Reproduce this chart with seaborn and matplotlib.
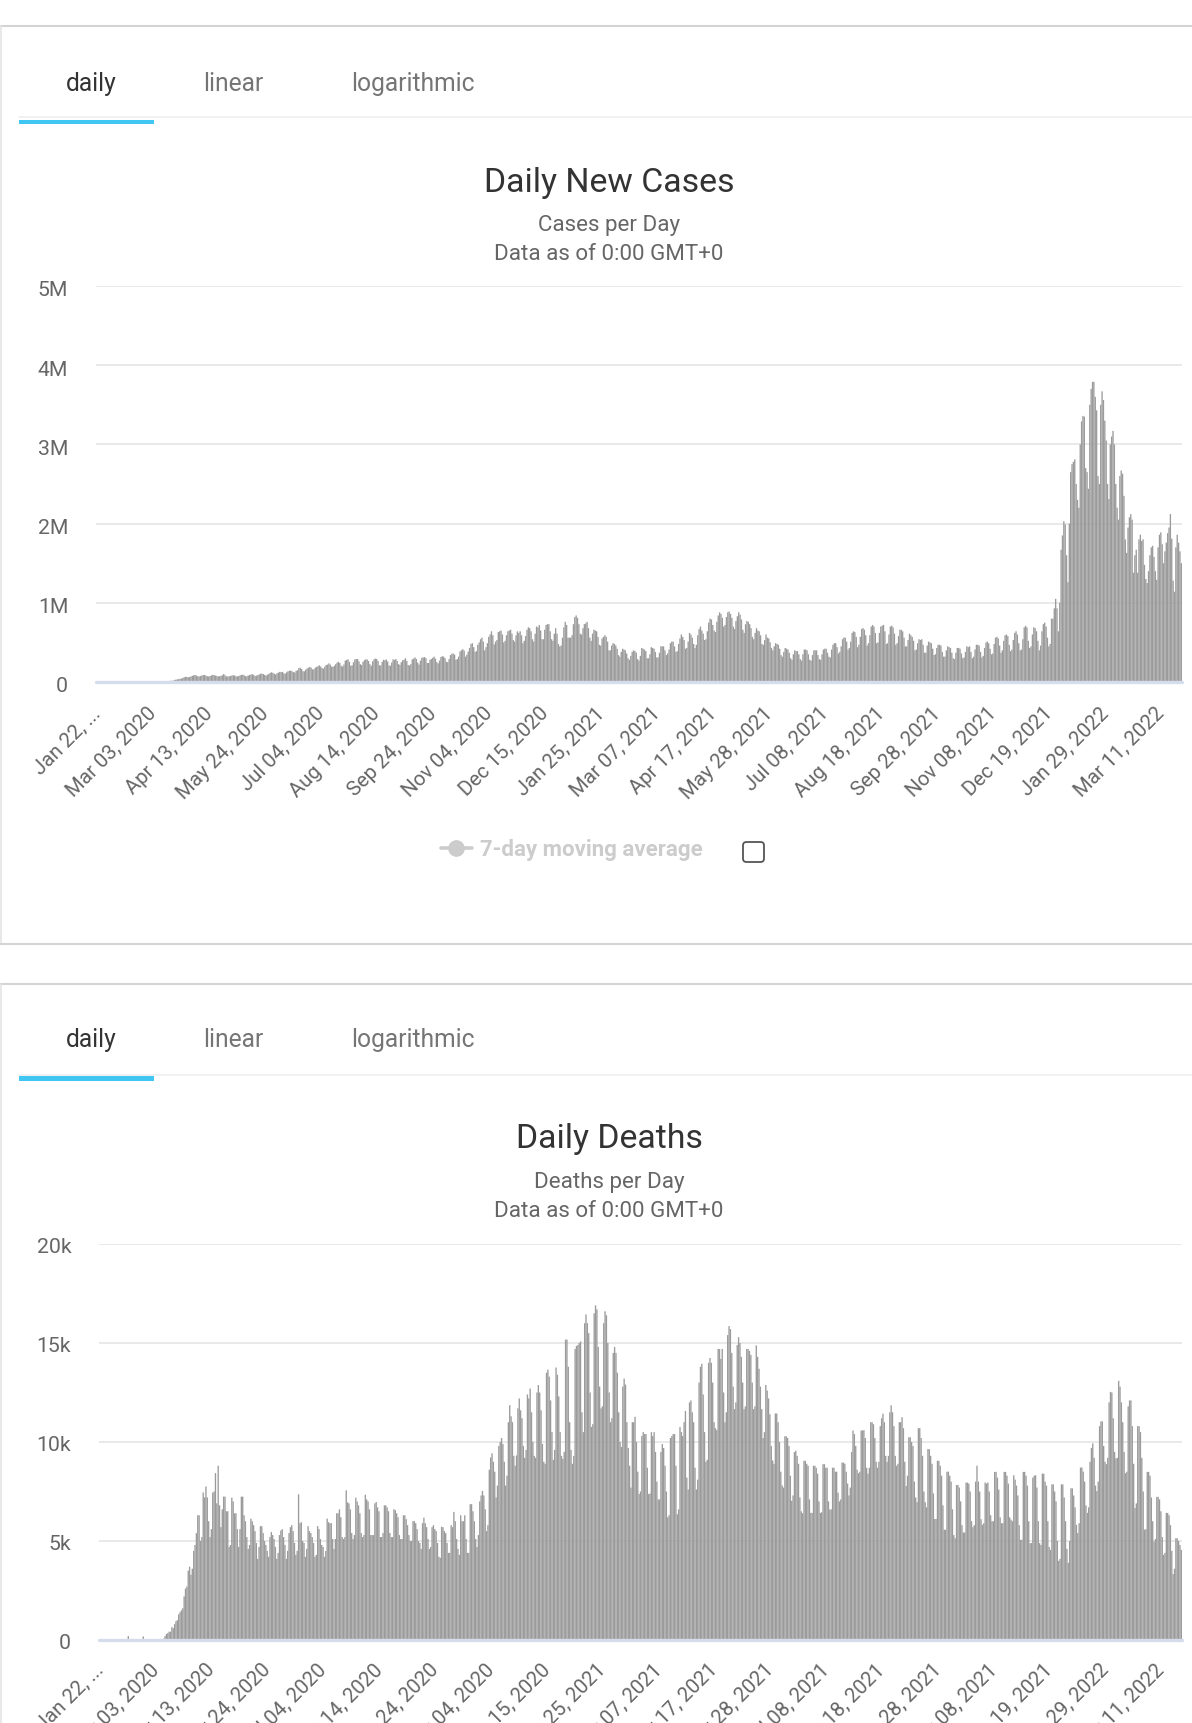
import matplotlib
matplotlib.use("Agg")
import matplotlib.pyplot as plt
import pandas as pd
import seaborn as sns
from matplotlib.patches import FancyBboxPatch, Rectangle
from matplotlib.lines import Line2D
from matplotlib.transforms import ScaledTranslation

tab_labels = ["daily", "linear", "logarithmic"]
tick_labels = ["Jan 22, ...", "Mar 03, 2020", "Apr 13, 2020", "May 24, 2020", "Jul 04, 2020",
               "Aug 14, 2020", "Sep 24, 2020", "Nov 04, 2020", "Dec 15, 2020", "Jan 25, 2021",
               "Mar 07, 2021", "Apr 17, 2021", "May 28, 2021", "Jul 08, 2021", "Aug 18, 2021",
               "Sep 28, 2021", "Nov 08, 2021", "Dec 19, 2021", "Jan 29, 2022", "Mar 11, 2022"]
cases_yticks = [0, 1000000, 2000000, 3000000, 4000000, 5000000]
cases_ylabels = ["0", "1M", "2M", "3M", "4M", "5M"]
deaths_yticks = [0, 5000, 10000, 15000, 20000]
deaths_ylabels = ["0", "5k", "10k", "15k", "20k"]

# daily new cases, thousands, one row per week starting Wed Jan 22, 2020
cases_k = [
    1,0,1,1,1,1,2, 2,2,2,3,3,3,4, 4,4,3,3,3,3,2, 2,8,5,2,2,2,2,
    2,1,1,1,2,1,1, 1,1,2,2,2,2,2, 2,3,3,4,4,4,5, 7,8,11,12,13,15,16,
    16,26,30,33,35,40,43, 50,60,65,64,60,62,70, 78,85,88,82,72,70,75,
    84,86,90,80,72,70,76, 82,90,88,80,75,72,72, 78,85,100,85,70,70,72,
    76,82,85,82,72,72,75, 85,90,92,85,72,75,82, 88,95,98,90,75,80,88,
    95,105,105,100,90,80,92, 102,115,122,115,105,95,110, 118,128,125,128,110,105,122,
    135,140,145,135,125,120,140, 148,175,180,165,135,135,155, 170,180,190,180,160,160,180,
    190,200,210,195,175,170,195, 215,220,235,220,195,190,205, 225,245,255,240,205,195,220,
    270,280,285,255,205,210,250, 285,290,290,260,225,215,255, 275,285,285,265,225,205,260,
    285,295,290,265,210,210,255, 280,275,285,260,210,205,245, 285,280,290,265,225,215,250,
    275,280,300,265,215,210,225, 285,295,310,290,245,220,270, 305,310,315,300,240,240,280,
    290,305,320,295,250,235,270, 315,325,320,300,255,250,290, 340,355,360,345,280,290,320,
    385,400,415,395,320,345,385, 430,480,490,440,380,390,470, 500,540,560,510,400,440,490,
    570,600,640,590,475,510,530, 630,640,650,600,500,520,590, 640,650,660,610,530,510,590,
    640,620,640,590,490,520,580, 660,690,680,640,540,510,610, 700,690,720,650,540,540,660,
    720,730,730,640,540,520,610, 680,610,480,450,460,560,690, 760,720,560,560,560,590,730,
    820,840,810,730,610,600,680, 730,740,760,680,560,520,610, 660,650,640,570,470,460,550,
    570,590,570,510,400,400,460, 490,480,460,420,340,320,380, 420,410,400,360,300,280,330,
    380,400,390,370,290,270,330, 430,420,410,390,300,300,350, 440,430,420,380,310,310,370,
    450,450,450,400,340,360,410, 490,510,510,450,380,390,480, 550,600,570,530,420,430,510,
    620,600,560,480,430,470,590, 670,700,650,610,530,540,640, 750,800,790,720,650,630,760,
    840,880,860,810,700,720,820, 880,890,860,810,700,670,770, 830,880,850,790,660,620,730,
    770,760,730,680,570,540,620, 680,650,640,590,480,470,530, 600,560,550,500,430,400,450,
    490,480,470,420,340,320,380, 430,420,410,370,300,280,350, 400,390,390,350,290,270,350,
    410,410,400,350,280,270,340, 400,400,400,340,290,280,350, 410,420,420,370,320,310,410,
    470,490,490,440,360,380,450, 540,560,560,510,410,430,510, 620,640,630,570,440,470,570,
    670,680,660,590,460,490,590, 700,720,700,620,490,500,620, 700,710,720,640,480,490,600,
    700,710,690,610,470,490,580, 660,660,640,560,450,450,530, 610,590,570,520,400,410,490,
    540,530,540,470,370,370,460, 510,500,490,420,340,350,430, 470,470,460,380,320,320,400,
    450,440,430,370,300,290,370, 430,430,420,360,300,310,380, 450,440,450,380,300,320,410,
    470,470,460,380,310,330,430, 500,510,490,420,350,360,480, 560,570,550,460,370,400,520,
    590,600,580,470,390,410,530, 620,640,600,490,400,410,540, 690,710,690,520,430,450,600,
    690,680,640,520,400,460,640, 730,750,700,560,450,480,800,
    800,930,1050,930,640,1000,1670, 1850,2030,1990,1600,1260,2000,2650,
    2750,2780,2810,2500,2300,2200,3000, 3290,3360,3350,2700,2650,2440,3500,
    3700,3790,3790,3600,3430,2600,2500, 3500,3670,3560,3300,3050,2500,2310,
    3000,3100,3170,3000,2500,2200,2050, 2600,2670,2630,2350,1800,1630,1950,
    2080,2120,2050,1380,1600,1670,1380, 1800,1860,1780,1800,1480,1300,1250,
    1400,1600,1700,1720,1580,1400,1290, 1700,1860,1890,1740,1500,1650,1760,
    1880,1950,2120,1810,1280,1140,1700, 1860,1760,1650,1500,
]

# daily deaths, one row per week starting Wed Jan 22, 2020
deaths = [
    5,1,3,5,5,8,10, 2,10,12,14,14,16,18, 20,22,24,25,26,28,26,
    200,5,30,30,28,26,30, 30,30,28,26,180,22,20, 15,18,20,25,18,20,25,
    30,30,35,30,35,70,200, 300,350,420,420,650,600,800, 950,1000,1300,1400,1500,1600,2200,
    2600,2700,3500,3700,3300,3600,4500, 4800,5400,6300,6300,5000,5200,7450,
    7200,7750,7200,6000,5200,5600,7450, 7500,8430,6900,8800,6800,5700,6600,
    7240,7240,6500,6500,4700,4800,7190, 7000,6400,6400,5600,4700,5600,7240,
    7240,6300,6000,5200,4600,4800,6130, 6000,5800,5500,4900,4100,4700,5750,
    5750,5400,5000,4800,4500,4200,5200, 5450,5300,5100,4700,4100,4400,5300,
    5530,5600,5200,4800,4100,4500,5400, 5700,5800,5500,4900,4300,4500,7360,
    5900,5950,5000,4900,4200,4600,5750, 5500,5400,5200,4900,4200,4300,5750,
    5600,5100,4800,4700,4200,4500,6130, 5950,5900,5900,5100,4600,5100,6400,
    6400,6600,6200,5200,5100,5200,7560, 6950,6900,6600,5400,5100,5300,7190,
    7000,6800,6400,5400,5200,5300,7340, 7100,7000,6600,5300,5300,5300,6900,
    6970,6700,6500,5200,5200,5400,6800, 6800,6700,6500,5400,5200,5200,6600,
    6560,6400,6200,5300,5100,5100,6300, 6300,6100,5800,5300,5000,5000,6000,
    6000,5900,5600,5000,4900,4600,5900, 6180,5900,5700,5100,4600,4700,5700,
    5800,5600,5500,4900,4200,4150,5720, 5700,5500,5400,4900,4400,4400,5800,
    5700,6470,6000,5100,4600,4300,6300, 6000,6000,6300,5100,4400,4400,6860,
    6860,6500,6000,5100,4700,5300,7000, 7300,7530,7300,6600,5500,5800,8600,
    9220,9430,9000,8500,7200,7800,9800, 10000,10200,9900,9000,7800,8300,11000,
    11860,11300,11000,9300,8800,9320,11700, 12200,11600,11200,9800,9200,9600,12400,
    12200,12700,11500,10000,9300,9200,12500, 12880,12500,11600,9900,9000,8900,13500,
    13650,13300,12100,10500,9100,9600,13760, 13400,12300,10500,9300,9150,9500,15170,
    15170,13800,11000,9600,8900,9300,14700, 14850,14900,15000,15080,11500,10500,16000,
    16440,16000,15500,12500,10760,10900,16500, 16900,16700,14800,12800,11700,11800,16000,
    16600,16400,15000,12500,11000,11200,14500, 14800,14500,13500,11500,10000,9750,12800,
    13200,12900,11000,9700,8800,7700,11000, 11000,11270,10000,8500,7370,7500,10300,
    10500,10400,10400,8700,7370,7400,10500, 10300,10500,9500,8000,7100,7100,9500,
    9900,9700,8800,7500,6200,6300,10200, 10300,10400,10400,8800,6350,6600,10760,
    10500,10300,11000,11570,8200,7600,12000, 12100,11500,11000,8700,7600,8100,13000,
    13800,13950,12400,10500,9000,9100,14000, 14240,14000,13000,11000,10700,10600,14700,
    14700,14200,14700,12500,11000,11500,15400, 15850,15700,14500,12800,11660,12000,14900,
    15290,15000,14300,13000,11660,11800,14700, 14700,14600,14400,13000,11660,11800,14880,
    14300,13700,12800,11660,10200,10500,12880, 12600,12200,11400,9800,9070,8900,11440,
    11440,11000,10000,8500,7800,7700,10290, 10290,10200,9800,8300,7030,7300,9490,
    9560,9300,8900,7200,6500,6400,9050, 9050,8900,8800,7100,6420,6420,8800,
    8800,8700,8400,7000,6420,6450,8880, 8880,8700,8700,7000,6590,6600,8700,
    8700,8500,8500,7440,7000,7100,8960, 8960,8900,8500,7900,7300,7700,9500,
    10580,10400,9800,8600,8420,8500,10580, 10580,10600,10200,8700,8400,8700,11000,
    11000,10900,10200,9000,8700,9000,10800, 11200,11430,11000,9300,9000,9300,11500,
    11850,11500,10800,9300,8800,8900,11000, 11000,11250,10700,9000,7780,8300,10240,
    10240,10000,9800,8000,7200,6960,10700, 10700,10200,9300,7500,6960,6700,9640,
    9640,9300,8900,7400,6110,6110,9050, 9050,8800,8300,6800,5570,5570,8500,
    8500,8300,8000,6600,5300,5140,7830, 7830,7700,7000,5800,5430,5430,7950,
    7950,7900,7500,6000,5700,5800,8000, 8800,8000,7500,6100,5820,5900,7950,
    7900,7950,7500,6300,6000,6000,8490, 8490,8200,7600,6200,5900,5900,8490,
    8490,8300,7900,6200,6080,6000,8320, 8100,7800,7300,5800,5060,5060,8490,
    8490,8300,7800,6000,4890,4900,8200, 8300,8320,7700,6000,4890,4800,8400,
    8400,8000,7800,6000,4700,4550,7860, 7860,7500,7000,5000,4000,4100,7860,
    7860,7200,6000,4600,3900,5000,7660, 7660,7300,6700,5820,5400,5900,8710,
    8710,8500,8000,6800,6420,6700,9000, 9700,9930,9200,7800,7520,8000,10800,
    11040,11040,9800,9000,8880,9200,12000, 12530,12500,11200,9500,9170,9200,13090,
    12800,12000,11000,9500,8420,8500,11800, 12100,12100,10800,8900,6670,6900,10800,
    10800,10500,9200,7500,5570,5600,8490, 8490,8300,7200,6000,4970,5100,7230,
    7230,7100,6500,5200,4300,4400,6420, 6420,6300,5800,4500,3330,3600,5140,
    5140,5000,4800,4550,
]

W, H = 1192, 1724
sns.set_theme(style="white")
plt.rcParams["font.family"] = ["Roboto", "DejaVu Sans"]
fig = plt.figure(figsize=(W / 100, H / 100), dpi=100, facecolor="white")


def axes_px(x0, x1, y0, y1, **kw):
    return fig.add_axes([x0 / W, 1 - y1 / H, (x1 - x0) / W, (y1 - y0) / H], **kw)


ov = axes_px(0, W, 0, H, zorder=0)
ov.set_xlim(0, W)
ov.set_ylim(H, 0)
ov.axis("off")


def draw_card(top, title, subtitle, dy, bottom=None):
    ov.add_line(Line2D([0, W], [top, top], color="#d4d4d4", lw=1.5))
    ov.add_line(Line2D([0.7, 0.7], [top, bottom if bottom else H], color="#e4e4e4", lw=1.2))
    if bottom:
        ov.add_line(Line2D([0, W], [bottom, bottom], color="#d4d4d4", lw=1.5))
    ov.add_line(Line2D([19, W], [top + 91, top + 91], color="#f0f0f0", lw=1.3))
    ov.add_patch(Rectangle((19, top + 92 + dy), 135, 4.6, color="#3fc6f3", lw=0))
    for lab, xc, col in zip(tab_labels, [90.8, 233.5, 413], ["#333333", "#757575", "#757575"]):
        ov.text(xc, top + 55 + dy, lab, ha="center", va="center", fontsize=17.7, color=col)
    ov.text(609, top + 154 + dy, title, ha="center", va="center", fontsize=24.4, color="#333333")
    ov.text(609, top + 197 + dy, subtitle, ha="center", va="center", fontsize=16.1, color="#666666")
    ov.text(609, top + 226 + dy, "Data as of 0:00 GMT+0", ha="center", va="center", fontsize=16.1, color="#666666")


draw_card(26.5, "Daily New Cases", "Cases per Day", 2.2, bottom=945)
draw_card(985, "Daily Deaths", "Deaths per Day", 0.3)

# disabled legend entry and checkbox
ov.add_line(Line2D([441, 472], [848.5, 848.5], color="#cccccc", lw=2.6))
ov.add_line(Line2D([456], [848.5], color="#cccccc", marker="o", ms=11, lw=0))
ov.text(480, 850, "7-day moving average", ha="left", va="center", fontsize=16.05,
        fontweight="bold", color="#cccccc")
ov.add_patch(FancyBboxPatch((743, 843), 21, 20, boxstyle="round,pad=0,rounding_size=3.5",
                            fc="white", ec="#555555", lw=1.3))


def draw_chart(x0, y0, y1, values, ymax, yticks, ylabels, xpad, ydrop):
    ax = axes_px(x0, 1182, y0, y1, zorder=1)
    ax.patch.set_alpha(0)
    df = pd.DataFrame({"day": range(len(values)), "value": values})
    sns.barplot(data=df, x="day", y="value", color="#9b9b9b", saturation=1, width=0.98,
                errorbar=None, linewidth=0, ax=ax, zorder=3)
    for p in ax.patches:
        p.set_snap(False)
    ax.set_xlim(-0.5, len(values) - 0.5)
    ax.set_ylim(0, ymax)
    ax.set_xlabel("")
    ax.set_ylabel("")
    ax.set_yticks(yticks, ylabels, fontsize=15.3, color="#666666")
    ax.set_xticks(range(0, len(values), 41), tick_labels, rotation=45, ha="right",
                  va="top", rotation_mode="anchor", fontsize=14.7, color="#666666")
    ax.tick_params(axis="y", length=0, pad=20)
    ax.tick_params(axis="x", length=0, pad=xpad)
    x_off = ScaledTranslation(-6 / 100, 0, fig.dpi_scale_trans)
    for lab in ax.get_xticklabels():
        lab.set_transform(lab.get_transform() + x_off)
    y_off = ScaledTranslation(0, -ydrop / 100, fig.dpi_scale_trans)
    for lab in ax.get_yticklabels():
        lab.set_transform(lab.get_transform() + y_off)
    ax.grid(axis="y", color="#e9e9e9", lw=1.4, zorder=0)
    ax.grid(axis="x", visible=False)
    sns.despine(ax=ax, left=True, bottom=True, top=True, right=True)
    ax.axhline(0, color="#d5dcec", lw=2.4, zorder=4, clip_on=False)
    return ax


draw_chart(96, 287, 683, [v * 1000 for v in cases_k], 5000000, cases_yticks, cases_ylabels, 15, 2)
draw_chart(99, 1245, 1641, deaths, 20000, deaths_yticks, deaths_ylabels, 14, 0.5)

fig.savefig("out.png", dpi=100)
